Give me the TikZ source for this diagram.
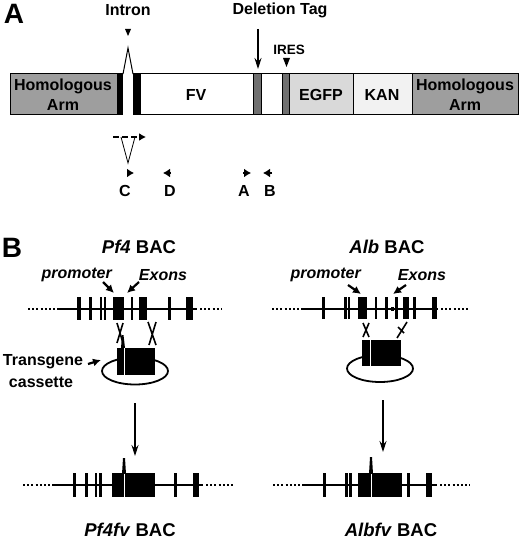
\documentclass[tikz,border=0pt]{standalone}
\usepackage{fontspec}
\setmainfont{Liberation Sans}
\usetikzlibrary{arrows.meta}
\definecolor{armgray}{HTML}{9E9E9E}
\definecolor{stripgray}{HTML}{707070}
\definecolor{egfpgray}{HTML}{D9D9D9}
\definecolor{kangray}{HTML}{F2F2F2}
\begin{document}
\begin{tikzpicture}[x=1pt,y=-1pt,
  txt/.style={font=\bfseries\fontsize{16}{20}\selectfont, inner sep=0pt, align=center},
  small/.style={font=\bfseries\fontsize{13.5}{16}\selectfont, inner sep=0pt},
  big/.style={font=\bfseries\fontsize{28}{30}\selectfont, inner sep=0pt},
  title/.style={font=\bfseries\fontsize{18.5}{22}\selectfont, inner sep=0pt},
  seg/.style={draw=black, line width=1pt},
  blk/.style={fill=black},
  gline/.style={line width=2pt},
  dots/.style={line width=2pt, dash pattern=on 2pt off 2.2pt},
  exon/.style={fill=black},
  ptr/.style={line width=2.2pt, -{Latex[length=8pt,width=8pt]}},
  primer/.style={line width=2pt, -{Latex[length=7pt,width=9pt]}},
  downarr/.style={line width=1.1pt, -{Stealth[length=11pt,width=7pt]}},
  xover/.style={line width=1.6pt},
  plasmid/.style={line width=1.8pt}
]
\useasboundingbox (0,0) rectangle (520,540);

% ---------------- Panel A ----------------
\node[big] (labA) at (14,14) {A};
\node[txt] (intron) at (128,10) {Intron};
\node[txt] (deltag) at (280,10) {Deletion Tag};
\node[small] (ires) at (289,50) {IRES};

% bar
\filldraw[seg, fill=armgray] (10,74) rectangle (117,115);
\fill[blk] (117,73) rectangle (123,115);
\fill[blk] (133,73) rectangle (140,115);
\filldraw[seg, fill=white] (140,74) rectangle (253,115);
\filldraw[seg, fill=stripgray] (253,74) rectangle (261,115);
\filldraw[seg, fill=white] (261,74) rectangle (282,115);
\filldraw[seg, fill=stripgray] (282,74) rectangle (289,115);
\filldraw[seg, fill=egfpgray] (289,74) rectangle (353,115);
\filldraw[seg, fill=kangray] (353,74) rectangle (412,115);
\filldraw[seg, fill=armgray] (412,74) rectangle (518,115);
\node[txt] (harm1) at (63,95) {Homologous\\Arm};
\node[txt] (fv) at (196,95) {FV};
\node[txt] (egfp) at (321,95) {EGFP};
\node[txt] (kan) at (382,95) {KAN};
\node[txt] (harm2) at (465,95) {Homologous\\Arm};

% intron loop
\draw[line width=1pt] (123,74) -- (128,48) -- (133,74);
\fill (125,29) -- (131,29) -- (128,36) -- cycle;
% deletion tag arrow
\coordinate (dtS) at (258,29);
\coordinate (dtE) at (258,69);
\draw[downarr] (dtS) -- (dtE);
% IRES marker
\fill (283,58) -- (290,58) -- (286.5,67) -- cycle;

% primers
\coordinate (dS) at (113,137);
\coordinate (dE) at (146,137);
\draw[line width=1.6pt, dash pattern=on 6pt off 3pt, -{Latex[length=7pt,width=8pt]}] (dS) -- (dE);
\draw[line width=0.8pt] (121,137) -- (128,163) -- (135,137);
\coordinate (cS) at (127,173); \coordinate (cE) at (134,173);
\coordinate (dpS) at (171,173); \coordinate (dpE) at (163,173);
\coordinate (aS) at (243,173); \coordinate (aE) at (251,173);
\coordinate (bS) at (272,173); \coordinate (bE) at (263,173);
\draw[primer] (cS) -- (cE);
\draw[primer] (dpS) -- (dpE);
\draw[primer] (aS) -- (aE);
\draw[primer] (bS) -- (bE);
\node[txt] (pC) at (125,191) {C};
\node[txt] (pD) at (170,191) {D};
\node[txt] (pA) at (244,191) {A};
\node[txt] (pB) at (270,191) {B};

% ---------------- Panel B ----------------
\node[big] (labB) at (12,248) {B};

% ---- Pf4 ----
\node[title] (pf4) at (139,247) {\textit{Pf4} BAC};
\node[txt] (prom1) at (77,275) {\textit{promoter}};
\node[txt] (exon1) at (163,275) {\textit{Exons}};
\coordinate (p1S) at (103,282); \coordinate (p1E) at (114,293);
\coordinate (e1S) at (139,282); \coordinate (e1E) at (127,293);
\draw[ptr] (p1S) -- (p1E);
\draw[ptr] (e1S) -- (e1E);
\draw[dots] (28,309) -- (57,309);
\draw[gline] (57,309) -- (197,309);
\draw[dots] (200,309) -- (222,309);
\foreach \a/\b in {77/81,89/92,100/102,104/106,113/124,131/133,139/147,168/171,186/193}
  \fill[exon] (\a,297) rectangle (\b,320);
% crossovers
\draw[xover] (117,323) -- (123,343) (123,323) -- (117,343);
\draw[xover] (148,322) -- (156,345) (156,322) -- (149,345);
% cassette
\draw[plasmid] (135,371) ellipse [x radius=33, y radius=13.5];
\fill (117,348) rectangle (155,375);
\fill (122,335) -- (123.5,335) -- (125,348) -- (121,348) -- cycle;
\draw[white, line width=0.8pt] (124,348) -- (124,375);
\node[txt, align=left] (tg) at (43,362) {Transgene};
\node[txt] (tg2) at (41,382) {cassette};
\coordinate (tgS) at (88,364); \coordinate (tgE) at (101,360);
\draw[ptr] (tgS) -- (tgE);
% down arrow
\coordinate (d1S) at (135,403); \coordinate (d1E) at (135,456);
\draw[downarr] (d1S) -- (d1E);
% Pf4fv
\draw[dots] (23,485) -- (52,485);
\draw[gline] (52,485) -- (203,485);
\draw[dots] (206,485) -- (235,485);
\foreach \a/\b in {73/76,85/88,95/97,99/102,112/155,174/177,193/199}
  \fill[exon] (\a,473) rectangle (\b,497);
\fill (122,474) -- (123,458) -- (125,458) -- (126,474) -- cycle;
\draw[white, line width=0.8pt] (124,474) -- (124,497);
\node[title] (pf4fv) at (130,530) {\textit{Pf4fv} BAC};

% ---- Alb ----
\node[title] (alb) at (387,247) {\textit{Alb} BAC};
\node[txt] (prom2) at (326,275) {\textit{promoter}};
\node[txt] (exon2) at (422,275) {\textit{Exons}};
\coordinate (p2S) at (348,285); \coordinate (p2E) at (361,294);
\coordinate (e2S) at (406,285); \coordinate (e2E) at (393,294);
\draw[ptr] (p2S) -- (p2E);
\draw[ptr] (e2S) -- (e2E);
\draw[dots] (272,309) -- (302,309);
\draw[gline] (302,309) -- (438,309);
\draw[dots] (441,309) -- (468,309);
\foreach \a/\b in {322/325,344/347,348/350,358/367,375/377,385/388,395/398,403/409,413/416,432/437}
  \fill[exon] (\a,297) rectangle (\b,319);
\fill (390.5,307) rectangle (393.5,311);
% crossovers
\draw[xover] (363,323) -- (369,337) (369,323) -- (363,337);
\draw[xover] (407,322) -- (397,338) (398,327) -- (404,333);
% cassette
\draw[plasmid] (380,368.5) ellipse [x radius=33, y radius=13.5];
\fill (362,340) rectangle (401,366);
\draw[white, line width=0.8pt] (370,340) -- (370,366);
% down arrow
\coordinate (d2S) at (383,400); \coordinate (d2E) at (383,452);
\draw[downarr] (d2S) -- (d2E);
% Albfv
\draw[dots] (273,485) -- (303,485);
\draw[gline] (303,485) -- (437,485);
\draw[dots] (440,485) -- (470,485);
\foreach \a/\b in {323/326,345/348,349/352,358/402,407/410,426/432}
  \fill[exon] (\a,473) rectangle (\b,497);
\fill (369,474) -- (370,457) -- (372,457) -- (373,474) -- cycle;
\draw[white, line width=0.8pt] (371,474) -- (371,497);
\node[title] (albfv) at (391,530) {\textit{Albfv} BAC};
\end{tikzpicture}
\end{document}
